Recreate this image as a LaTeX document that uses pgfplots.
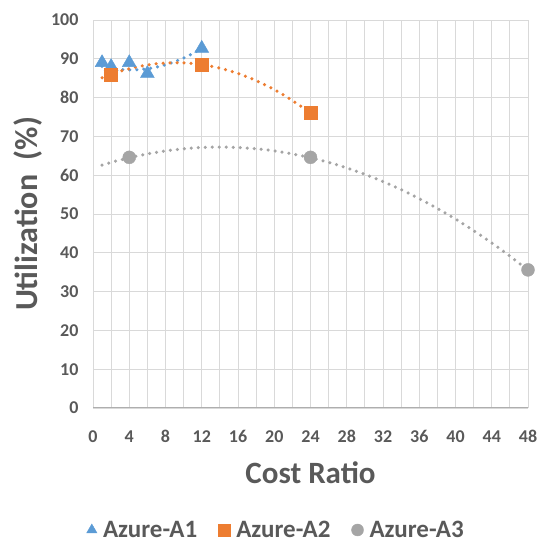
\documentclass[border=0pt]{standalone}
\usepackage{pgfplots}
\pgfplotsset{compat=1.18}
\usepackage{fontspec}
\setmainfont{Carlito}
\definecolor{txt}{HTML}{595959}
\definecolor{cA}{HTML}{5B9BD5}
\definecolor{cB}{HTML}{ED7D31}
\definecolor{cC}{HTML}{A5A5A5}
\definecolor{gridc}{HTML}{D9D9D9}
\begin{document}
\begin{tikzpicture}[x=1pt,y=1pt]
\useasboundingbox (0,0) rectangle (549,545);
\begin{axis}[
  at={(93pt,137pt)}, anchor=south west,
  scale only axis, width=435pt, height=388pt,
  xmin=0, xmax=48, ymin=0, ymax=100,
  xtick={0,4,...,48}, ytick={0,10,...,100},
  minor x tick num=1,
  grid=both,
  major grid style={gridc, line width=0.8pt},
  minor grid style={gridc, line width=0.8pt},
  major tick length=0pt, minor tick length=0pt,
  separate axis lines,
  x axis line style={draw=gridc!80!black, line width=1pt},
  y axis line style={draw=none},
  axis x line*=bottom, axis y line*=left,
  /pgf/number format/assume math mode=true,
  tick label style={font=\bfseries\fontsize{18}{18}\selectfont, text=txt},
  xticklabel style={yshift=-19pt},
  yticklabel style={xshift=-11pt},
  xlabel={Cost Ratio},
  xlabel style={font=\bfseries\fontsize{31}{31}\selectfont, text=txt, at={(axis description cs:0.5,0)}, anchor=center, yshift=-65pt},
  ylabel={Utilization~~(\%)},
  ylabel style={font=\bfseries\fontsize{32}{32}\selectfont, text=txt, at={(axis description cs:0,0.5)}, anchor=center, yshift=65pt},
  legend columns=3,
  legend style={draw=none, fill=none, font=\bfseries\fontsize{25}{25}\selectfont, text=txt,
    inner sep=0pt, nodes={inner sep=1pt},
    at={(axis description cs:0.42,0)}, yshift=-122pt, anchor=center,
    /tikz/every even column/.append style={column sep=20pt},
    /tikz/every odd column/.append style={column sep=5pt}},
  legend cell align=left,
  clip=false,
]
% trendlines
\addplot[forget plot, cA, line width=3.5pt, line cap=round, dash pattern=on 0pt off 7pt, smooth] coordinates {
 (1,88.04) (2,87.56) (3,87.26) (4,87.14) (5,87.2) (6,87.44) (7,87.86) (8,88.46) (9,89.24) (10,90.2) (11,91.34) (12,92.66)};
\addplot[forget plot, cB, line width=3.5pt, line cap=round, dash pattern=on 0pt off 7pt, smooth] coordinates {
 (1,85.10) (2,86.0) (4,87.44) (6,88.41) (8,88.91) (10,88.94) (12,88.5) (14,87.59) (16,86.21) (18,84.37) (20,82.05) (22,79.26) (24,76.0)};
\addplot[forget plot, cC, line width=3.5pt, line cap=round, dash pattern=on 0pt off 7pt, smooth] coordinates {
 (1,62.6) (2,63.30) (4,64.5) (6,65.49) (8,66.26) (10,66.81) (12,67.14) (14,67.25) (16,67.14) (18,66.81) (20,66.26) (22,65.49) (24,64.5) (26,63.30) (28,61.87) (30,60.22) (32,58.35) (34,56.27) (36,53.96) (38,51.43) (40,48.69) (42,45.72) (44,42.54) (46,39.13) (48,35.5)};
% data
\addplot[only marks, mark=triangle*, mark size=8pt, color=cA, legend image post style={mark size=6pt}] coordinates {
 (1,89) (2,88) (4,89) (6,86.2) (12,92.7)};
\addlegendentry{Azure-A1}
\addplot[only marks, mark=square*, mark size=6.5pt, color=cB, legend image post style={mark size=6pt}] coordinates {
 (2,86) (12,88.5) (24,76)};
\addlegendentry{Azure-A2}
\addplot[only marks, mark=*, mark size=6.5pt, color=cC, legend image post style={mark size=6pt}] coordinates {
 (4,64.6) (24,64.6) (48,35.6)};
\addlegendentry{Azure-A3}
\end{axis}
\end{tikzpicture}
\end{document}
